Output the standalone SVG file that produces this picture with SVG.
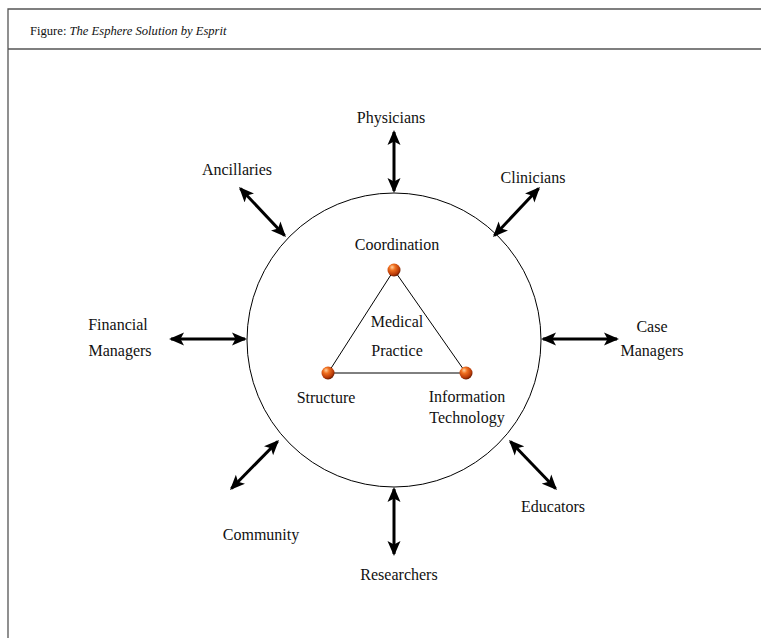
<svg xmlns="http://www.w3.org/2000/svg" width="761" height="638" viewBox="0 0 761 638">
  <style>
    .frame { fill: none; stroke: #555; stroke-width: 1.3; }
    .lbl { font-family: "Liberation Serif", "Times New Roman", serif; font-size: 16px; fill: #111; text-anchor: middle; }
    .cap { font-family: "Liberation Serif", "Times New Roman", serif; font-size: 12.6px; fill: #111; }
    .arrow { stroke: #000; stroke-width: 3; marker-start: url(#head); marker-end: url(#head); }
    .edge { stroke: #000; stroke-width: 1; }
    .sphere { fill: url(#ball); }
  </style>
  <defs>
    <marker id="head" markerUnits="userSpaceOnUse" markerWidth="16" markerHeight="14" refX="13" refY="7" orient="auto-start-reverse" viewBox="0 0 16 14">
      <path d="M0,0.5 L15,7 L0,13.5 L3.5,7 z" fill="#000"/>
    </marker>
    <radialGradient id="ball" cx="0.4" cy="0.35" r="0.65" fx="0.35" fy="0.28">
      <stop offset="0" stop-color="#ffd2a0"/>
      <stop offset="0.35" stop-color="#f07020"/>
      <stop offset="0.8" stop-color="#b83a08"/>
      <stop offset="1" stop-color="#6a1c00"/>
    </radialGradient>
  </defs>

  <rect width="761" height="638" fill="#fff"/>

  <!-- frame and caption -->
  <path class="frame" d="M8,638 V9 H761 M8,49 H761"/>
  <text class="cap" x="30" y="35">Figure: <tspan font-style="italic">The Esphere Solution by Esprit</tspan></text>

  <!-- sphere outline -->
  <g id="esphere">
    <circle cx="394" cy="340" r="147" fill="none" stroke="#000" stroke-width="1"/>
  </g>

  <!-- connectors -->
  <g id="connectors">
    <line class="arrow" x1="394" y1="132" x2="394" y2="191"/>
    <line class="arrow" x1="394" y1="489" x2="394" y2="554"/>
    <line class="arrow" x1="171" y1="339" x2="245" y2="339"/>
    <line class="arrow" x1="543" y1="339" x2="617" y2="339"/>
    <line class="arrow" x1="240.4" y1="188.5" x2="284.6" y2="235.5"/>
    <line class="arrow" x1="538.6" y1="188.5" x2="494.4" y2="235.5"/>
    <line class="arrow" x1="231.4" y1="488.5" x2="277.6" y2="441.5"/>
    <line class="arrow" x1="555.6" y1="488.5" x2="510.4" y2="441.5"/>
    <line class="edge" x1="394" y1="270" x2="328" y2="373"/>
    <line class="edge" x1="394" y1="270" x2="466" y2="373"/>
    <line class="edge" x1="328" y1="373" x2="466" y2="373"/>
  </g>

  <!-- outer stakeholders -->
  <g id="physicians"><text class="lbl" x="391" y="123">Physicians</text></g>
  <g id="ancillaries"><text class="lbl" x="237" y="175">Ancillaries</text></g>
  <g id="clinicians"><text class="lbl" x="533" y="183">Clinicians</text></g>
  <g id="financial-managers">
    <text class="lbl" x="118" y="330">Financial</text>
    <text class="lbl" x="120" y="356">Managers</text>
  </g>
  <g id="case-managers">
    <text class="lbl" x="652" y="332">Case</text>
    <text class="lbl" x="652" y="356">Managers</text>
  </g>
  <g id="community"><text class="lbl" x="261" y="540">Community</text></g>
  <g id="educators"><text class="lbl" x="553" y="512">Educators</text></g>
  <g id="researchers"><text class="lbl" x="399" y="580">Researchers</text></g>

  <!-- inner triangle -->
  <g id="coordination">
    <circle class="sphere" cx="394" cy="270" r="6.5"/>
    <text class="lbl" x="397" y="250">Coordination</text>
  </g>
  <g id="structure">
    <circle class="sphere" cx="328" cy="373" r="6.5"/>
    <text class="lbl" x="326" y="403">Structure</text>
  </g>
  <g id="information-technology">
    <circle class="sphere" cx="466" cy="373" r="6.5"/>
    <text class="lbl" x="467" y="402">Information</text>
    <text class="lbl" x="467" y="423">Technology</text>
  </g>
  <g id="medical-practice">
    <text class="lbl" x="397" y="327">Medical</text>
    <text class="lbl" x="397" y="356">Practice</text>
  </g>
</svg>
